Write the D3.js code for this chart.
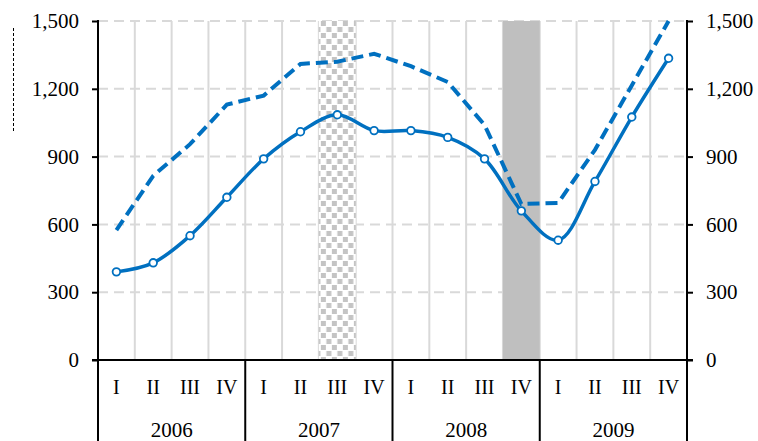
<!DOCTYPE html>
<html>
<head>
<meta charset="utf-8">
<script src="https://cdn.jsdelivr.net/npm/d3@7"></script>
<style>
  body { margin: 0; background: #fff; }
  svg { display: block; }
  text { font-family: "Liberation Serif", "Times New Roman", serif; fill: #000; }
</style>
</head>
<body>
<svg id="chart" width="758" height="441"></svg>
<script>
const years = ["2006", "2007", "2008", "2009"];
const quarters = ["I", "II", "III", "IV"];
const solidValues = [390, 430, 550, 720, 890, 1010, 1085, 1015, 1015, 985, 890, 660, 530, 790, 1075, 1335];
const dashedValues = [575, 815, 955, 1130, 1170, 1310, 1320, 1355, 1300, 1230, 1040, 690, 695, 930, 1215, 1500];
const yTicks = [0, 300, 600, 900, 1200, 1500];
const patternBand = "2007-III";
const solidBand = "2008-IV";

const keys = [];
years.forEach(function(y) { quarters.forEach(function(q) { keys.push(y + "-" + q); }); });

const blue = "#0070c0";
const grid = "#d9d9d9";
const svg = d3.select("#chart");

const x = d3.scaleBand().domain(keys).range([98, 687]).padding(0);
const y = d3.scaleLinear().domain([0, 1500]).range([360, 21]);
const bw = x.bandwidth();

// pattern for the dotted band
const defs = svg.append("defs");
const pat = defs.append("pattern")
  .attr("id", "dots")
  .attr("patternUnits", "userSpaceOnUse")
  .attr("x", x(patternBand) + 2).attr("y", 21)
  .attr("width", 11).attr("height", 12);
pat.append("rect").attr("width", 11).attr("height", 12).attr("fill", "#fff");
pat.append("rect").attr("x", 0).attr("y", 0).attr("width", 5).attr("height", 5).attr("fill", "#c4c4c4");
pat.append("rect").attr("x", 5.5).attr("y", 6).attr("width", 5).attr("height", 5).attr("fill", "#c4c4c4");

// horizontal dashed gridlines
svg.append("g").selectAll("line")
  .data(yTicks.filter(function(d) { return d > 0; }))
  .enter().append("line")
  .attr("x1", 98).attr("x2", 687)
  .attr("y1", function(d) { return y(d); })
  .attr("y2", function(d) { return y(d); })
  .attr("stroke", grid).attr("stroke-width", 2)
  .attr("stroke-dasharray", "10,6");

// vertical gridlines at category boundaries
svg.append("g").selectAll("line")
  .data(keys.slice(1))
  .enter().append("line")
  .attr("x1", function(d) { return x(d); })
  .attr("x2", function(d) { return x(d); })
  .attr("y1", y(1500)).attr("y2", y(0))
  .attr("stroke", grid).attr("stroke-width", 2);

// shaded bands
svg.append("rect")
  .attr("x", x(patternBand)).attr("y", y(1500))
  .attr("width", bw).attr("height", y(0) - y(1500))
  .attr("fill", "url(#dots)");
svg.append("rect")
  .attr("x", x(solidBand)).attr("y", y(1500))
  .attr("width", bw).attr("height", y(0) - y(1500))
  .attr("fill", "#bfbfbf");

// axes
const fmt = d3.format(",");
const left = svg.append("g")
  .attr("transform", "translate(98,0)")
  .call(d3.axisLeft(y).tickValues(yTicks).tickFormat(fmt).tickSizeOuter(0).tickSize(6).tickPadding(13));
const right = svg.append("g")
  .attr("transform", "translate(687,0)")
  .call(d3.axisRight(y).tickValues(yTicks).tickFormat(fmt).tickSizeOuter(0).tickSize(6).tickPadding(13));
[left, right].forEach(function(a) {
  a.select(".domain").remove();
  a.selectAll("line").attr("stroke", "#000").attr("stroke-width", 2);
  a.selectAll("text").style("font-size", "21px").style("font-family", "Liberation Serif");
});

// axis lines
svg.append("line").attr("x1", 98).attr("x2", 98).attr("y1", 20).attr("y2", 441)
  .attr("stroke", "#000").attr("stroke-width", 2);
svg.append("line").attr("x1", 687).attr("x2", 687).attr("y1", 20).attr("y2", 441)
  .attr("stroke", "#000").attr("stroke-width", 2);
svg.append("line").attr("x1", 92).attr("x2", 693).attr("y1", y(0)).attr("y2", y(0))
  .attr("stroke", "#000").attr("stroke-width", 2);

// year separators
svg.append("g").selectAll("line")
  .data(years.slice(1))
  .enter().append("line")
  .attr("x1", function(d) { return x(d + "-I"); })
  .attr("x2", function(d) { return x(d + "-I"); })
  .attr("y1", y(0)).attr("y2", 441)
  .attr("stroke", "#000").attr("stroke-width", 2);

// category labels
svg.append("g").selectAll("text")
  .data(keys)
  .enter().append("text")
  .attr("x", function(d) { return x(d) + bw / 2; })
  .attr("y", 394)
  .attr("text-anchor", "middle")
  .style("font-size", "20px")
  .text(function(d) { return d.split("-")[1]; });

svg.append("g").selectAll("text")
  .data(years)
  .enter().append("text")
  .attr("x", function(d) { return x(d + "-I") + bw * 2; })
  .attr("y", 437)
  .attr("text-anchor", "middle")
  .style("font-size", "21px")
  .text(function(d) { return d; });

// small dashed mark at left
svg.append("line").attr("x1", 13.5).attr("x2", 13.5).attr("y1", 28).attr("y2", 132)
  .attr("stroke", "#000").attr("stroke-width", 1).attr("stroke-dasharray", "3,2");

// series
const cx = function(d, i) { return x(keys[i]) + bw / 2; };
const dashedLine = d3.line().x(cx).y(function(d) { return y(d); });
const solidLine = d3.line().x(cx).y(function(d) { return y(d); }).curve(d3.curveCatmullRom.alpha(0.5));

svg.append("path")
  .attr("d", dashedLine(dashedValues))
  .attr("fill", "none").attr("stroke", blue).attr("stroke-width", 4)
  .attr("stroke-dasharray", "12,6");

svg.append("path")
  .attr("d", solidLine(solidValues))
  .attr("fill", "none").attr("stroke", blue).attr("stroke-width", 3.5);

svg.append("g").selectAll("circle")
  .data(solidValues)
  .enter().append("circle")
  .attr("cx", cx)
  .attr("cy", function(d) { return y(d); })
  .attr("r", 3.8)
  .attr("fill", "#fff").attr("stroke", blue).attr("stroke-width", 1.8);
</script>
</body>
</html>
